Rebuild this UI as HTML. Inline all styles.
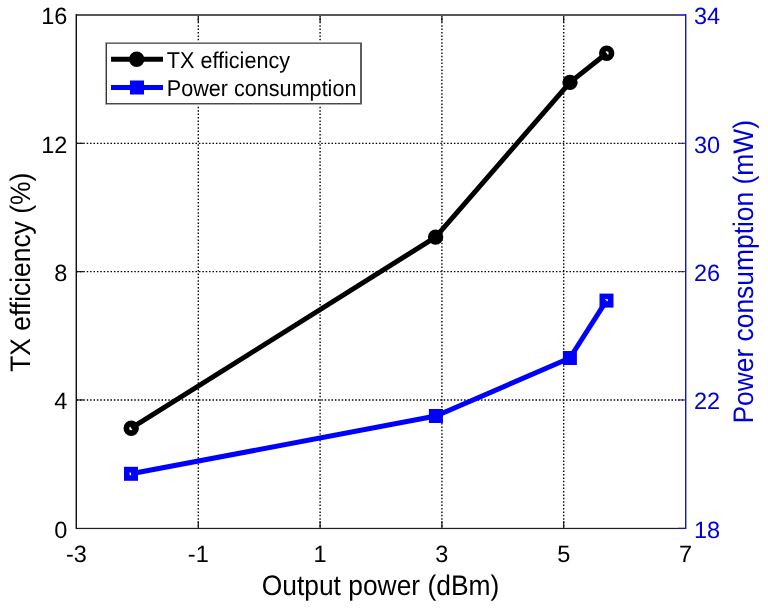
<!DOCTYPE html>
<html><head><meta charset="utf-8"><title>TX efficiency and power consumption</title>
<style>
html,body{margin:0;padding:0;background:#fff;}
body{width:768px;height:608px;overflow:hidden;}
svg{display:block;}
text{font-family:"Liberation Sans", Arial, Helvetica, sans-serif;text-rendering:geometricPrecision;}
.tl{font-size:23.5px;}
.al{font-size:26.4px;}
.lg{font-size:21.6px;}
.grid{stroke:#000;stroke-width:1.35;stroke-dasharray:1.5 1.9;}
.tick{stroke:#111;stroke-width:1.2;}
.btick{stroke:#1c1c88;stroke-width:1;}
.blue{fill:#0000d2;}
.ax{stroke:#111;stroke-width:1.4;}
.bax{stroke:#0000ff;stroke-width:1.4;}
</style></head>
<body>
<svg width="768" height="608" viewBox="0 0 768 608">
<line x1="198.30" y1="15.0" x2="198.30" y2="528.3" class="grid"/>
<line x1="320.10" y1="15.0" x2="320.10" y2="528.3" class="grid"/>
<line x1="441.90" y1="15.0" x2="441.90" y2="528.3" class="grid"/>
<line x1="563.70" y1="15.0" x2="563.70" y2="528.3" class="grid"/>
<line x1="76.5" y1="399.97" x2="685.5" y2="399.97" class="grid"/>
<line x1="76.5" y1="271.65" x2="685.5" y2="271.65" class="grid"/>
<line x1="76.5" y1="143.32" x2="685.5" y2="143.32" class="grid"/>
<line x1="198.30" y1="528.3" x2="198.30" y2="521.3" class="tick"/>
<line x1="198.30" y1="15.0" x2="198.30" y2="22.0" class="tick"/>
<line x1="320.10" y1="528.3" x2="320.10" y2="521.3" class="tick"/>
<line x1="320.10" y1="15.0" x2="320.10" y2="22.0" class="tick"/>
<line x1="441.90" y1="528.3" x2="441.90" y2="521.3" class="tick"/>
<line x1="441.90" y1="15.0" x2="441.90" y2="22.0" class="tick"/>
<line x1="563.70" y1="528.3" x2="563.70" y2="521.3" class="tick"/>
<line x1="563.70" y1="15.0" x2="563.70" y2="22.0" class="tick"/>
<line x1="76.5" y1="399.97" x2="83.5" y2="399.97" class="tick"/>
<line x1="76.5" y1="271.65" x2="83.5" y2="271.65" class="tick"/>
<line x1="76.5" y1="143.32" x2="83.5" y2="143.32" class="tick"/>
<g shape-rendering="crispEdges">
<rect x="76" y="527" width="609" height="1" fill="#000" fill-opacity="0.14"/>
<rect x="76" y="529" width="609" height="1" fill="#000" fill-opacity="0.06"/>
<rect x="75" y="528" width="611" height="1" fill="#1e1e1e"/>
<rect x="76" y="14" width="610" height="2" fill="#575757"/>
<rect x="75" y="14" width="1" height="515" fill="#999"/>
<rect x="76" y="14" width="1" height="515" fill="#111"/>
<rect x="685" y="14" width="1" height="515" fill="#1e1e90"/>
<rect x="686" y="14" width="1" height="515" fill="#9c9ce2"/>
</g>
<line x1="685" y1="528.30" x2="678" y2="528.30" class="btick"/>
<line x1="685" y1="399.97" x2="678" y2="399.97" class="btick"/>
<line x1="685" y1="271.65" x2="678" y2="271.65" class="btick"/>
<line x1="685" y1="143.32" x2="678" y2="143.32" class="btick"/>
<rect x="678" y="14" width="7" height="2" fill="#4646d6" shape-rendering="crispEdges"/>
<polyline points="131.2,428.2 435.6,237.1 570.0,82.4 606.7,53.2" fill="none" stroke="#000" stroke-width="5" stroke-linejoin="round"/>
<circle cx="131.2" cy="428.2" r="4.85" fill="none" stroke="#000" stroke-width="5.7"/>
<circle cx="435.6" cy="237.1" r="4.85" fill="none" stroke="#000" stroke-width="5.7"/>
<circle cx="570.0" cy="82.4" r="4.85" fill="none" stroke="#000" stroke-width="5.7"/>
<circle cx="606.7" cy="53.2" r="4.85" fill="none" stroke="#000" stroke-width="5.7"/>
<polyline points="131.0,473.8 435.9,416.0 569.9,358.0 606.5,300.6" fill="none" stroke="#0000ff" stroke-width="5" stroke-linejoin="round"/>
<rect x="126.80" y="469.60" width="8.4" height="8.4" fill="none" stroke="#0000ff" stroke-width="5.6"/>
<rect x="431.70" y="411.80" width="8.4" height="8.4" fill="none" stroke="#0000ff" stroke-width="5.6"/>
<rect x="565.70" y="353.80" width="8.4" height="8.4" fill="none" stroke="#0000ff" stroke-width="5.6"/>
<rect x="602.30" y="296.40" width="8.4" height="8.4" fill="none" stroke="#0000ff" stroke-width="5.6"/>
<text x="76.50" y="561.5" text-anchor="middle" class="tl">-3</text>
<text x="198.30" y="561.5" text-anchor="middle" class="tl">-1</text>
<text x="320.10" y="561.5" text-anchor="middle" class="tl">1</text>
<text x="441.90" y="561.5" text-anchor="middle" class="tl">3</text>
<text x="563.70" y="561.5" text-anchor="middle" class="tl">5</text>
<text x="685.50" y="561.5" text-anchor="middle" class="tl">7</text>
<text x="67.3" y="537.70" text-anchor="end" class="tl">0</text>
<text x="67.3" y="409.37" text-anchor="end" class="tl">4</text>
<text x="67.3" y="281.05" text-anchor="end" class="tl">8</text>
<text x="67.3" y="152.72" text-anchor="end" class="tl">12</text>
<text x="67.3" y="24.40" text-anchor="end" class="tl">16</text>
<text x="694" y="537.70" class="tl blue">18</text>
<text x="694" y="409.37" class="tl blue">22</text>
<text x="694" y="281.05" class="tl blue">26</text>
<text x="694" y="152.72" class="tl blue">30</text>
<text x="694" y="24.40" class="tl blue">34</text>
<text transform="translate(380.5,594.6) scale(1,1.07)" text-anchor="middle" class="al">Output power (dBm)</text>
<text transform="translate(29.6,272.3) rotate(-90) scale(1,1.07)" text-anchor="middle" class="al">TX efficiency (%)</text>
<text transform="translate(752.6,271.8) rotate(-90) scale(1,1.07)" text-anchor="middle" class="al blue">Power consumption (mW)</text>
<g shape-rendering="crispEdges">
<rect x="105" y="42" width="257" height="63" fill="#fff"/>
<rect x="105" y="42" width="257" height="1" fill="#a0a0a0"/>
<rect x="105" y="104" width="257" height="1" fill="#a8a8a8"/>
<rect x="105" y="42" width="1" height="63" fill="#aaa"/>
<rect x="106" y="43" width="255" height="1" fill="#6a6a6a"/>
<rect x="106" y="103" width="255" height="1" fill="#4a4a4a"/>
<rect x="106" y="43" width="1" height="61" fill="#383838"/>
<rect x="360" y="43" width="2" height="61" fill="#5e5e5e"/>
</g>
<line x1="111" y1="59.3" x2="163" y2="59.3" stroke="#000" stroke-width="5"/>
<circle cx="136.7" cy="59.3" r="7.7" fill="#000"/>
<line x1="111" y1="87.4" x2="163" y2="87.4" stroke="#0000ff" stroke-width="5"/>
<rect x="130" y="80.5" width="14" height="14" fill="#0000ff"/>
<text transform="translate(166.8,67.8) scale(1,1.06)" class="lg">TX efficiency</text>
<text transform="translate(166.8,96.0) scale(1,1.06)" class="lg">Power consumption</text>
</svg>
</body></html>
